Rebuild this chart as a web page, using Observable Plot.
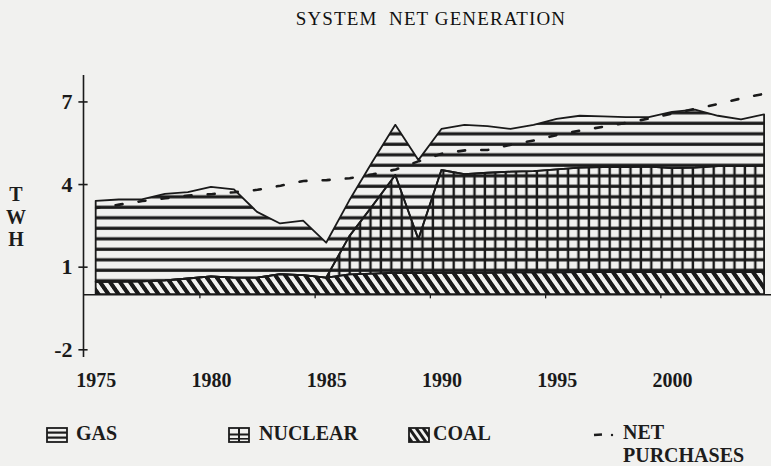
<!DOCTYPE html>
<html><head><meta charset="utf-8">
<script src="https://cdn.jsdelivr.net/npm/d3@7"></script>
<script src="https://cdn.jsdelivr.net/npm/@observablehq/plot@0.6"></script>
<style>
body{margin:0;background:#f1f1ef;}
#wrap{position:relative;width:771px;height:466px;overflow:hidden;font-family:"Liberation Serif","Times New Roman",serif;color:#1c1c1c;}
#title{position:absolute;left:231px;width:400px;top:8px;text-align:center;font-size:19px;letter-spacing:1.1px;white-space:pre;color:#111;}
#ylab{position:absolute;left:4px;width:24px;top:183px;text-align:center;font-weight:bold;font-size:20px;line-height:22.5px;}
#chart{position:absolute;left:0;top:0;}
.lt{position:absolute;font-weight:bold;font-size:20px;line-height:16px;white-space:nowrap;}
.li{position:absolute;}
</style></head>
<body><div id="wrap">
<div id="chart"></div>
<div id="title">SYSTEM  NET GENERATION</div>
<div id="ylab">T<br>W<br>H</div>
<svg class="li" style="left:46px;top:427px" width="22" height="16"><rect x="1" y="1" width="20" height="14" fill="none" stroke="#1c1c1c" stroke-width="1.8"/><rect x="1" y="4.5" width="20" height="2.2" fill="#1c1c1c"/><rect x="1" y="9.5" width="20" height="2.2" fill="#1c1c1c"/></svg>
<div class="lt" style="left:76px;top:425px">GAS</div>
<svg class="li" style="left:228px;top:427px" width="22" height="16"><rect x="1" y="1" width="20" height="14" fill="none" stroke="#1c1c1c" stroke-width="1.8"/><rect x="1" y="6.5" width="20" height="2" fill="#1c1c1c"/><rect x="1" y="11" width="20" height="1.6" fill="#1c1c1c"/><rect x="10" y="1" width="2" height="14" fill="#1c1c1c"/></svg>
<div class="lt" style="left:259px;top:425px">NUCLEAR</div>
<svg class="li" style="left:408px;top:427px" width="22" height="16"><defs><clipPath id="cc"><rect x="1" y="1" width="20" height="14"/></clipPath></defs><rect x="1" y="1" width="20" height="14" fill="none" stroke="#1c1c1c" stroke-width="1.8"/><g clip-path="url(#cc)" stroke="#1c1c1c" stroke-width="3"><line x1="-6" y1="1" x2="4" y2="15"/><line x1="1" y1="1" x2="11" y2="15"/><line x1="8" y1="1" x2="18" y2="15"/><line x1="15" y1="1" x2="25" y2="15"/></g></svg>
<div class="lt" style="left:433px;top:425px">COAL</div>
<svg class="li" style="left:592px;top:427px" width="26" height="16"><line x1="2" y1="8" x2="10" y2="7.5" stroke="#1c1c1c" stroke-width="2.4"/><circle cx="20" cy="8" r="1.2" fill="#1c1c1c"/></svg>
<div class="lt" style="left:623px;top:424px">NET</div>
<div class="lt" style="left:623px;top:447px">PURCHASES</div>
</div>
<script>
const years = [1975,1976,1977,1978,1979,1980,1981,1982,1983,1984,1985,1986,1987,1988,1989,1990,1991,1992,1993,1994,1995,1996,1997,1998,1999,2000,2001,2002,2003,2004];
const coal = [0.45,0.46,0.47,0.50,0.57,0.65,0.60,0.60,0.73,0.69,0.60,0.72,0.75,0.78,0.77,0.78,0.78,0.78,0.79,0.79,0.79,0.80,0.80,0.80,0.80,0.80,0.80,0.80,0.80,0.80];
const nuclear = [0,0,0,0,0,0,0,0,0,0,0,1.38,2.45,3.55,1.23,3.73,3.58,3.63,3.66,3.68,3.74,3.80,3.82,3.82,3.83,3.78,3.80,3.85,3.85,3.88];
const gas = [2.94,2.98,2.97,3.14,3.14,3.25,3.21,2.39,1.84,1.98,1.27,1.30,1.60,1.82,2.87,1.49,1.79,1.69,1.55,1.68,1.84,1.88,1.84,1.81,1.80,2.04,2.10,1.83,1.70,1.85];
const netPurchases = [3.15,3.27,3.40,3.50,3.60,3.65,3.72,3.81,3.96,4.13,4.16,4.23,4.37,4.55,4.85,5.12,5.24,5.26,5.45,5.60,5.80,5.96,6.10,6.24,6.40,6.58,6.75,6.93,7.13,7.30];
const yTicks = [-2,1,4,7];
const yearLabels = [1975,1980,1985,1990,1995,2000];
const xTickMarks = [1979.5,1984.5,1989.5,1994.5,1999.5];
const sources = ["coal","nuclear","gas"];

const ink = "#1a1a1a";
const fills = {coal:"url(#pat-coal)", nuclear:"url(#pat-nuclear)", gas:"url(#pat-gas)"};
const series = {coal, nuclear, gas};
const rows = [];
years.forEach((yr,i)=>{ sources.forEach(s=>rows.push({year:yr, source:s, value:series[s][i]})); });
const net = years.map((yr,i)=>({year:yr, value:netPurchases[i]}));
const x0 = 1974.45;

const plot = Plot.plot({
  width:771, height:400,
  marginLeft:83, marginRight:0, marginTop:75, marginBottom:43,
  style:{background:"transparent", fontFamily:"Liberation Serif, Times New Roman, serif", color:ink, overflow:"visible"},
  x:{domain:[x0, 2004.3]},
  y:{domain:[-2.28, 7.96]},
  color:{type:"identity"},
  marks:[
    Plot.areaY(rows, Plot.stackY({x:"year", y:"value", z:"source", order:sources, fill:d=>fills[d.source], stroke:ink, strokeWidth:1.8, strokeLinejoin:"round"})),
    Plot.line(net, {x:"year", y:"value", stroke:ink, strokeWidth:2.6, strokeDasharray:"7,16.2", strokeDashoffset:3.6}),
    Plot.ruleY([0], {stroke:ink, strokeWidth:1.6}),
    Plot.ruleX([x0], {stroke:ink, strokeWidth:1.6}),
    Plot.ruleX(xTickMarks, {y1:0, y2:-0.15, stroke:ink, strokeWidth:1.3}),
    Plot.ruleY(yTicks, {x1:x0-0.2, x2:x0+0.2, stroke:ink, strokeWidth:1.6}),
    Plot.axisY({ticks:yTicks, tickSize:0, tickPadding:11, fontSize:22, fontWeight:"bold", label:null, tickFormat:d=>String(d)}),
    Plot.axisX({ticks:yearLabels, tickSize:0, tickPadding:15, fontSize:20, fontWeight:"bold", label:null, tickFormat:d=>String(d)})
  ]
});

const svg = d3.select(plot);
const defs = svg.insert("defs", ":first-child");
const pg = defs.append("pattern").attr("id","pat-gas").attr("patternUnits","userSpaceOnUse").attr("width",10).attr("height",10.5);
pg.append("rect").attr("x",0).attr("y",6.2).attr("width",10).attr("height",3.2).attr("fill",ink);
const pn = defs.append("pattern").attr("id","pat-nuclear").attr("patternUnits","userSpaceOnUse").attr("width",10.4).attr("height",10.5);
pn.append("rect").attr("x",0).attr("y",6.2).attr("width",10.4).attr("height",3.2).attr("fill",ink);
pn.append("rect").attr("x",5.3).attr("y",0).attr("width",2.4).attr("height",10.5).attr("fill",ink);
const pc = defs.append("pattern").attr("id","pat-coal").attr("patternUnits","userSpaceOnUse").attr("width",10).attr("height",40).attr("patternTransform","skewX(35)");
pc.append("rect").attr("x",0).attr("y",0).attr("width",5).attr("height",40).attr("fill",ink);

document.getElementById("chart").appendChild(plot);
</script>
</body></html>
